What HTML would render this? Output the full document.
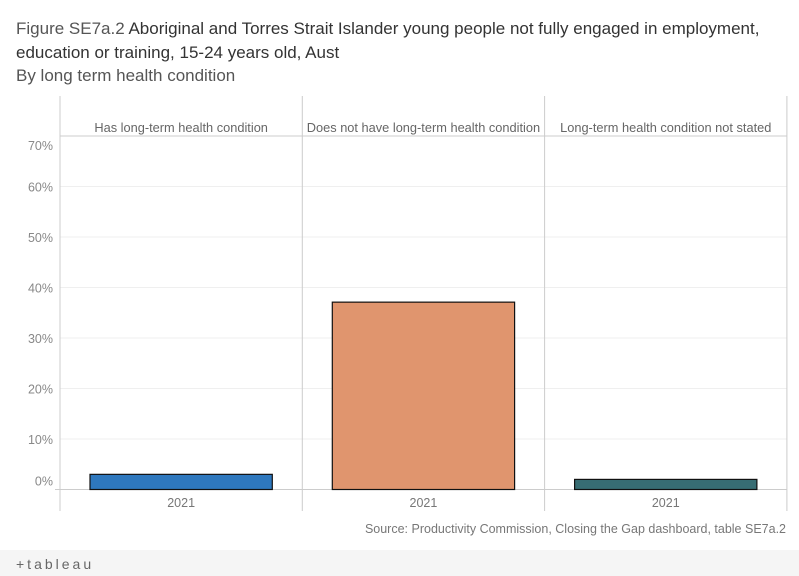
<!DOCTYPE html>
<html><head><meta charset="utf-8"><style>
body{margin:0;width:799px;height:576px;overflow:hidden;background:#fff;font-family:"Liberation Sans",sans-serif}
.t{position:absolute;left:16px;font-size:17px;color:#333;white-space:nowrap}
</style></head><body>
<div class="t" style="top:19px"><span style="color:#555">Figure SE7a.2</span> Aboriginal and Torres Strait Islander young people not fully engaged in employment,</div>
<div class="t" style="top:43px">education or training, 15-24 years old, Aust</div>
<div class="t" style="top:66px;color:#555">By long term health condition</div>
<svg id="c" width="799" height="576" style="position:absolute;left:0;top:0"></svg>
<script>
const categories=["Has long-term health condition","Does not have long-term health condition","Long-term health condition not stated"];
const values=[3.0,37.1,2.0];
const colors=["#2e78be","#e0956e","#376d73"];
const years=["2021","2021","2021"];
const ticks=[0,10,20,30,40,50,60,70];
const svg=document.getElementById('c');const NS='http://www.w3.org/2000/svg';
function mk(t,a,p){const e=document.createElementNS(NS,t);for(const k in a)e.setAttribute(k,a[k]);(p||svg).appendChild(e);return e;}
const y0=489.5,pxPer=5.05,left=60,pw=242.3;
const y=v=>y0-v*pxPer;
const x=i=>left+i*pw;
ticks.forEach((t,k)=>{
 if(t>0&&t<70){const g=mk('line',{x1:left,x2:787,y1:y(t),y2:y(t),stroke:'#efefef'});}
 let ly=y(t)+5; if(k==0)ly=y(t)-4; if(k==ticks.length-1)ly=y(t)+14;
 const l=mk('text',{x:53,y:ly,'text-anchor':'end','font-size':'12.5',fill:'#888'});l.textContent=t+'%';
 
});
mk('line',{x1:60,x2:787,y1:136,y2:136,stroke:'#ccc'});
mk('line',{x1:55,x2:787,y1:y0,y2:y0,stroke:'#ccc'});
[0,1,2,3].forEach(i=>{const v=mk('line',{x1:x(i),x2:x(i),y1:96,y2:511,stroke:'#ccc'});});
categories.forEach((c,i)=>{
 const h=mk('text',{x:x(i)+pw/2,y:132,'text-anchor':'middle','font-size':'12.8',fill:'#666'});h.textContent=c;
 
 const b=mk('rect',{x:x(i)+30,y:y(values[i]),width:pw-60,height:y0-y(values[i]),fill:colors[i],stroke:'#111','stroke-width':1.2});
 
 const yr=mk('text',{x:x(i)+pw/2,y:507,'text-anchor':'middle','font-size':'12.5',fill:'#777'});yr.textContent=years[i];
 
});
const s=mk('text',{x:786,y:533,'text-anchor':'end','font-size':'12.5',fill:'#777'});s.textContent='Source: Productivity Commission, Closing the Gap dashboard, table SE7a.2';

const f=mk('rect',{x:0,y:550,width:799,height:26,fill:'#f5f5f5'});
const tl=mk('text',{x:16,y:569,'font-size':'14',fill:'#666','letter-spacing':'3'});
tl.textContent='+tableau';

</script>
</body></html>
